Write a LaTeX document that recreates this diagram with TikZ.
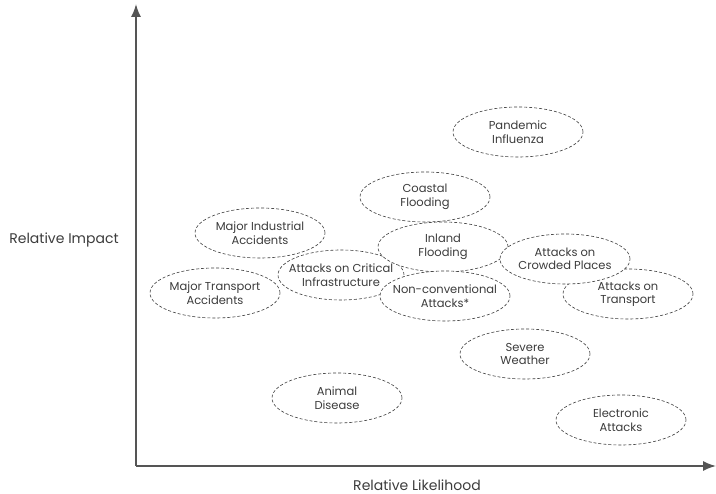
\documentclass[tikz,border=0pt]{standalone}
\usepackage{fontspec}
\setmainfont{Poppins}
\usetikzlibrary{shapes.geometric}
\usetikzlibrary{arrows.meta}
\definecolor{inkgray}{HTML}{3C3C3C}
\definecolor{axisgray}{HTML}{555555}
\tikzset{
	risk/.style={ellipse, draw=inkgray, fill=white, densely dashed, line width=0.6pt,
		minimum width=130pt, minimum height=50pt, inner xsep=-25pt, inner ysep=0pt, align=center,
		text=inkgray, font=\fontsize{11.5}{13.5}\selectfont},
	axis/.style={draw=axisgray, line width=1.6pt, -{Latex[length=13pt,width=10pt]}},
	axislabel/.style={text=inkgray, font=\fontsize{14}{16}\selectfont}
}

\begin{document}
\begin{tikzpicture}[x=1pt,y=-1pt]
		\useasboundingbox (0,0) rectangle (716,494);
		\coordinate (O) at (136,466);
		\coordinate (ytop) at (136,4);
		\coordinate (xend) at (716,466);
		\draw[axis] (O) -- (ytop);
		\draw[axis] (O) -- (xend);
		\node[axislabel] (impact) at (64,240) {Relative Impact};
		\node[axislabel] (likelihood) at (417,485) {Relative Likelihood};
		% risks, back to front
		\node[risk] (pandemic) at (518,132) {Pandemic\\Influenza};
		\node[risk] (industrial) at (260,233) {Major Industrial\\Accidents};
		\node[risk] (motor) at (215,293) {Major Transport\\Accidents};
		\node[risk, minimum width=126pt] (critical) at (341,275) {Attacks on Critical\\Infrastructure};
		\node[risk] (coastal) at (425,197) {Coastal\\Flooding};
		\node[risk] (inland) at (443,247) {Inland\\Flooding};
		\node[risk] (nonconv) at (445,296) {Non-conventional\\Attacks*};
		\node[risk] (transport) at (628,294) {Attacks on\\Transport};
		\node[risk] (crowded) at (565,259) {Attacks on\\Crowded Places};
		\node[risk] (weather) at (525,354) {Severe\\Weather};
		\node[risk] (animal) at (337,398) {Animal\\Disease};
		\node[risk] (electronic) at (621,420) {Electronic\\Attacks};
\end{tikzpicture}
\end{document}
